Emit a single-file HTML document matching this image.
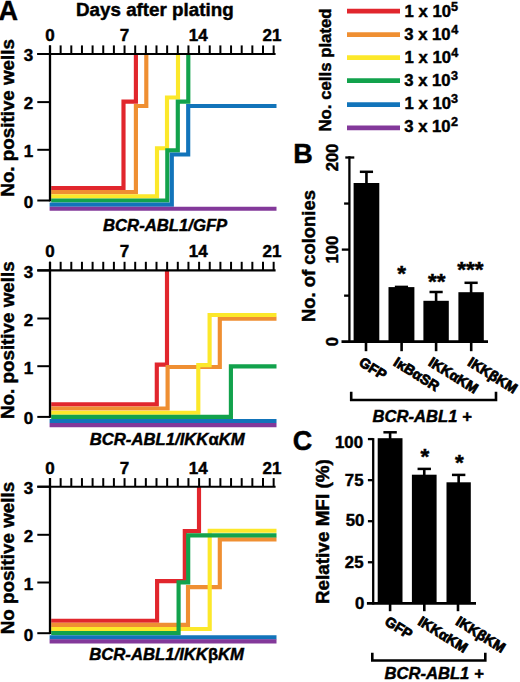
<!DOCTYPE html>
<html><head><meta charset="utf-8"><style>
html,body{margin:0;padding:0;background:#fff;}
body{width:520px;height:682px;overflow:hidden;}
svg{display:block;}
text{font-family:"Liberation Sans", sans-serif;font-weight:bold;fill:#000;stroke:#000;stroke-width:0.45px;}
text.xl{stroke-width:0.8px;}
</style></head><body>
<svg width="520" height="682" viewBox="0 0 520 682">
<rect width="520" height="682" fill="#fff"/>
<text x="-1.47" y="20.20" font-size="27" text-anchor="start" style="">A</text>
<text x="76.04" y="15.60" font-size="18.8" text-anchor="start" style="">Days after plating</text>
<text x="50.00" y="40.80" font-size="17" text-anchor="middle" style="">0</text>
<text x="124.55" y="40.80" font-size="17" text-anchor="middle" style="">7</text>
<text x="198.30" y="40.80" font-size="17" text-anchor="middle" style="">14</text>
<text x="272.05" y="40.80" font-size="17" text-anchor="middle" style="">21</text>
<polyline points="51.20,188.00 123.50,188.00 123.50,101.60 135.90,101.60 135.90,54.00" fill="none" stroke="#E1262D" stroke-width="4.15" stroke-linejoin="miter" stroke-linecap="butt"/>
<polyline points="51.20,192.10 135.90,192.10 135.90,106.00 146.30,106.00 146.30,54.00" fill="none" stroke="#EF8F32" stroke-width="4.15" stroke-linejoin="miter" stroke-linecap="butt"/>
<polyline points="51.20,196.30 157.00,196.30 157.00,148.20 167.00,148.20 167.00,97.50 178.00,97.50 178.00,54.00" fill="none" stroke="#FCE82A" stroke-width="4.15" stroke-linejoin="miter" stroke-linecap="butt"/>
<polyline points="51.20,200.45 167.30,200.45 167.30,150.40 177.80,150.40 177.80,101.60 188.30,101.60 188.30,54.00" fill="none" stroke="#12A24C" stroke-width="4.15" stroke-linejoin="miter" stroke-linecap="butt"/>
<polyline points="49.60,204.60 171.80,204.60 171.80,154.50 188.20,154.50 188.20,106.00 276.50,106.00" fill="none" stroke="#1274BA" stroke-width="4.15" stroke-linejoin="miter" stroke-linecap="butt"/>
<polyline points="49.60,208.70 276.50,208.70" fill="none" stroke="#83399A" stroke-width="4.15" stroke-linejoin="miter" stroke-linecap="butt"/>
<line x1="37.30" y1="54.00" x2="275.60" y2="54.00" stroke="#000" stroke-width="2.1" stroke-linecap="butt"/>
<line x1="50.00" y1="45.40" x2="50.00" y2="54.00" stroke="#000" stroke-width="2.0" stroke-linecap="butt"/>
<line x1="60.65" y1="45.40" x2="60.65" y2="54.00" stroke="#000" stroke-width="2.0" stroke-linecap="butt"/>
<line x1="71.30" y1="45.40" x2="71.30" y2="54.00" stroke="#000" stroke-width="2.0" stroke-linecap="butt"/>
<line x1="81.95" y1="45.40" x2="81.95" y2="54.00" stroke="#000" stroke-width="2.0" stroke-linecap="butt"/>
<line x1="92.60" y1="45.40" x2="92.60" y2="54.00" stroke="#000" stroke-width="2.0" stroke-linecap="butt"/>
<line x1="103.25" y1="45.40" x2="103.25" y2="54.00" stroke="#000" stroke-width="2.0" stroke-linecap="butt"/>
<line x1="113.90" y1="45.40" x2="113.90" y2="54.00" stroke="#000" stroke-width="2.0" stroke-linecap="butt"/>
<line x1="124.55" y1="45.40" x2="124.55" y2="54.00" stroke="#000" stroke-width="2.0" stroke-linecap="butt"/>
<line x1="135.20" y1="45.40" x2="135.20" y2="54.00" stroke="#000" stroke-width="2.0" stroke-linecap="butt"/>
<line x1="145.85" y1="45.40" x2="145.85" y2="54.00" stroke="#000" stroke-width="2.0" stroke-linecap="butt"/>
<line x1="156.50" y1="45.40" x2="156.50" y2="54.00" stroke="#000" stroke-width="2.0" stroke-linecap="butt"/>
<line x1="167.15" y1="45.40" x2="167.15" y2="54.00" stroke="#000" stroke-width="2.0" stroke-linecap="butt"/>
<line x1="177.80" y1="45.40" x2="177.80" y2="54.00" stroke="#000" stroke-width="2.0" stroke-linecap="butt"/>
<line x1="188.45" y1="45.40" x2="188.45" y2="54.00" stroke="#000" stroke-width="2.0" stroke-linecap="butt"/>
<line x1="199.10" y1="45.40" x2="199.10" y2="54.00" stroke="#000" stroke-width="2.0" stroke-linecap="butt"/>
<line x1="209.75" y1="45.40" x2="209.75" y2="54.00" stroke="#000" stroke-width="2.0" stroke-linecap="butt"/>
<line x1="220.40" y1="45.40" x2="220.40" y2="54.00" stroke="#000" stroke-width="2.0" stroke-linecap="butt"/>
<line x1="231.05" y1="45.40" x2="231.05" y2="54.00" stroke="#000" stroke-width="2.0" stroke-linecap="butt"/>
<line x1="241.70" y1="45.40" x2="241.70" y2="54.00" stroke="#000" stroke-width="2.0" stroke-linecap="butt"/>
<line x1="252.35" y1="45.40" x2="252.35" y2="54.00" stroke="#000" stroke-width="2.0" stroke-linecap="butt"/>
<line x1="263.00" y1="45.40" x2="263.00" y2="54.00" stroke="#000" stroke-width="2.0" stroke-linecap="butt"/>
<line x1="273.65" y1="45.40" x2="273.65" y2="54.00" stroke="#000" stroke-width="2.0" stroke-linecap="butt"/>
<line x1="50.00" y1="45.40" x2="50.00" y2="201.40" stroke="#000" stroke-width="2.3" stroke-linecap="butt"/>
<line x1="37.30" y1="54.00" x2="50.00" y2="54.00" stroke="#000" stroke-width="2.0" stroke-linecap="butt"/>
<text x="33.20" y="61.30" font-size="17" text-anchor="end" style="">3</text>
<line x1="37.30" y1="102.10" x2="50.00" y2="102.10" stroke="#000" stroke-width="2.0" stroke-linecap="butt"/>
<text x="33.20" y="109.40" font-size="17" text-anchor="end" style="">2</text>
<line x1="37.30" y1="149.80" x2="50.00" y2="149.80" stroke="#000" stroke-width="2.0" stroke-linecap="butt"/>
<text x="33.20" y="157.10" font-size="17" text-anchor="end" style="">1</text>
<line x1="37.30" y1="200.50" x2="50.00" y2="200.50" stroke="#000" stroke-width="2.0" stroke-linecap="butt"/>
<text x="33.20" y="207.80" font-size="17" text-anchor="end" style="">0</text>
<text x="14.20" y="196.66" font-size="18.8" text-anchor="start" style="" transform="rotate(-90 14.20 196.66)">No. positive wells</text>
<text x="103.01" y="230.80" font-size="16.7" text-anchor="start" style="font-style:italic;">BCR-ABL1/GFP</text>
<text x="50.00" y="257.20" font-size="17" text-anchor="middle" style="">0</text>
<text x="124.55" y="257.20" font-size="17" text-anchor="middle" style="">7</text>
<text x="198.30" y="257.20" font-size="17" text-anchor="middle" style="">14</text>
<text x="272.05" y="257.20" font-size="17" text-anchor="middle" style="">21</text>
<polyline points="51.20,404.40 156.80,404.40 156.80,364.60 167.00,364.60 167.00,270.40" fill="none" stroke="#E1262D" stroke-width="4.15" stroke-linejoin="miter" stroke-linecap="butt"/>
<polyline points="51.20,408.50 167.60,408.50 167.60,367.00 219.80,367.00 219.80,318.70 276.50,318.70" fill="none" stroke="#EF8F32" stroke-width="4.15" stroke-linejoin="miter" stroke-linecap="butt"/>
<polyline points="51.20,412.70 198.30,412.70 198.30,365.10 209.60,365.10 209.60,315.00 276.50,315.00" fill="none" stroke="#FCE82A" stroke-width="4.15" stroke-linejoin="miter" stroke-linecap="butt"/>
<polyline points="51.20,416.85 230.90,416.85 230.90,366.40 276.50,366.40" fill="none" stroke="#12A24C" stroke-width="4.15" stroke-linejoin="miter" stroke-linecap="butt"/>
<polyline points="49.60,421.00 276.50,421.00" fill="none" stroke="#1274BA" stroke-width="4.15" stroke-linejoin="miter" stroke-linecap="butt"/>
<polyline points="49.60,425.10 276.50,425.10" fill="none" stroke="#83399A" stroke-width="4.15" stroke-linejoin="miter" stroke-linecap="butt"/>
<line x1="37.30" y1="270.40" x2="275.60" y2="270.40" stroke="#000" stroke-width="2.1" stroke-linecap="butt"/>
<line x1="50.00" y1="261.80" x2="50.00" y2="270.40" stroke="#000" stroke-width="2.0" stroke-linecap="butt"/>
<line x1="60.65" y1="261.80" x2="60.65" y2="270.40" stroke="#000" stroke-width="2.0" stroke-linecap="butt"/>
<line x1="71.30" y1="261.80" x2="71.30" y2="270.40" stroke="#000" stroke-width="2.0" stroke-linecap="butt"/>
<line x1="81.95" y1="261.80" x2="81.95" y2="270.40" stroke="#000" stroke-width="2.0" stroke-linecap="butt"/>
<line x1="92.60" y1="261.80" x2="92.60" y2="270.40" stroke="#000" stroke-width="2.0" stroke-linecap="butt"/>
<line x1="103.25" y1="261.80" x2="103.25" y2="270.40" stroke="#000" stroke-width="2.0" stroke-linecap="butt"/>
<line x1="113.90" y1="261.80" x2="113.90" y2="270.40" stroke="#000" stroke-width="2.0" stroke-linecap="butt"/>
<line x1="124.55" y1="261.80" x2="124.55" y2="270.40" stroke="#000" stroke-width="2.0" stroke-linecap="butt"/>
<line x1="135.20" y1="261.80" x2="135.20" y2="270.40" stroke="#000" stroke-width="2.0" stroke-linecap="butt"/>
<line x1="145.85" y1="261.80" x2="145.85" y2="270.40" stroke="#000" stroke-width="2.0" stroke-linecap="butt"/>
<line x1="156.50" y1="261.80" x2="156.50" y2="270.40" stroke="#000" stroke-width="2.0" stroke-linecap="butt"/>
<line x1="167.15" y1="261.80" x2="167.15" y2="270.40" stroke="#000" stroke-width="2.0" stroke-linecap="butt"/>
<line x1="177.80" y1="261.80" x2="177.80" y2="270.40" stroke="#000" stroke-width="2.0" stroke-linecap="butt"/>
<line x1="188.45" y1="261.80" x2="188.45" y2="270.40" stroke="#000" stroke-width="2.0" stroke-linecap="butt"/>
<line x1="199.10" y1="261.80" x2="199.10" y2="270.40" stroke="#000" stroke-width="2.0" stroke-linecap="butt"/>
<line x1="209.75" y1="261.80" x2="209.75" y2="270.40" stroke="#000" stroke-width="2.0" stroke-linecap="butt"/>
<line x1="220.40" y1="261.80" x2="220.40" y2="270.40" stroke="#000" stroke-width="2.0" stroke-linecap="butt"/>
<line x1="231.05" y1="261.80" x2="231.05" y2="270.40" stroke="#000" stroke-width="2.0" stroke-linecap="butt"/>
<line x1="241.70" y1="261.80" x2="241.70" y2="270.40" stroke="#000" stroke-width="2.0" stroke-linecap="butt"/>
<line x1="252.35" y1="261.80" x2="252.35" y2="270.40" stroke="#000" stroke-width="2.0" stroke-linecap="butt"/>
<line x1="263.00" y1="261.80" x2="263.00" y2="270.40" stroke="#000" stroke-width="2.0" stroke-linecap="butt"/>
<line x1="273.65" y1="261.80" x2="273.65" y2="270.40" stroke="#000" stroke-width="2.0" stroke-linecap="butt"/>
<line x1="50.00" y1="261.80" x2="50.00" y2="417.80" stroke="#000" stroke-width="2.3" stroke-linecap="butt"/>
<line x1="37.30" y1="270.40" x2="50.00" y2="270.40" stroke="#000" stroke-width="2.0" stroke-linecap="butt"/>
<text x="33.20" y="277.70" font-size="17" text-anchor="end" style="">3</text>
<line x1="37.30" y1="318.50" x2="50.00" y2="318.50" stroke="#000" stroke-width="2.0" stroke-linecap="butt"/>
<text x="33.20" y="325.80" font-size="17" text-anchor="end" style="">2</text>
<line x1="37.30" y1="366.20" x2="50.00" y2="366.20" stroke="#000" stroke-width="2.0" stroke-linecap="butt"/>
<text x="33.20" y="373.50" font-size="17" text-anchor="end" style="">1</text>
<line x1="37.30" y1="416.90" x2="50.00" y2="416.90" stroke="#000" stroke-width="2.0" stroke-linecap="butt"/>
<text x="33.20" y="424.20" font-size="17" text-anchor="end" style="">0</text>
<text x="14.20" y="418.96" font-size="18.8" text-anchor="start" style="" transform="rotate(-90 14.20 418.96)">No. positive wells</text>
<text x="89.71" y="444.60" font-size="16.7" text-anchor="start" style="font-style:italic;">BCR-ABL1/IKK<tspan style="font-style:normal">&#945;</tspan>KM</text>
<text x="50.00" y="473.50" font-size="17" text-anchor="middle" style="">0</text>
<text x="124.55" y="473.50" font-size="17" text-anchor="middle" style="">7</text>
<text x="198.30" y="473.50" font-size="17" text-anchor="middle" style="">14</text>
<text x="272.05" y="473.50" font-size="17" text-anchor="middle" style="">21</text>
<polyline points="51.20,620.70 157.10,620.70 157.10,581.10 184.80,581.10 184.80,531.10 199.00,531.10 199.00,486.70" fill="none" stroke="#E1262D" stroke-width="4.15" stroke-linejoin="miter" stroke-linecap="butt"/>
<polyline points="51.20,624.80 188.00,624.80 188.00,587.10 219.80,587.10 219.80,539.30 276.50,539.30" fill="none" stroke="#EF8F32" stroke-width="4.15" stroke-linejoin="miter" stroke-linecap="butt"/>
<polyline points="51.20,629.00 209.70,629.00 209.70,530.70 276.50,530.70" fill="none" stroke="#FCE82A" stroke-width="4.15" stroke-linejoin="miter" stroke-linecap="butt"/>
<polyline points="51.20,633.15 178.60,633.15 178.60,582.40 188.20,582.40 188.20,535.30 276.50,535.30" fill="none" stroke="#12A24C" stroke-width="4.15" stroke-linejoin="miter" stroke-linecap="butt"/>
<polyline points="49.60,637.30 276.50,637.30" fill="none" stroke="#1274BA" stroke-width="4.15" stroke-linejoin="miter" stroke-linecap="butt"/>
<polyline points="49.60,641.40 276.50,641.40" fill="none" stroke="#83399A" stroke-width="4.15" stroke-linejoin="miter" stroke-linecap="butt"/>
<line x1="37.30" y1="486.70" x2="275.60" y2="486.70" stroke="#000" stroke-width="2.1" stroke-linecap="butt"/>
<line x1="50.00" y1="478.10" x2="50.00" y2="486.70" stroke="#000" stroke-width="2.0" stroke-linecap="butt"/>
<line x1="60.65" y1="478.10" x2="60.65" y2="486.70" stroke="#000" stroke-width="2.0" stroke-linecap="butt"/>
<line x1="71.30" y1="478.10" x2="71.30" y2="486.70" stroke="#000" stroke-width="2.0" stroke-linecap="butt"/>
<line x1="81.95" y1="478.10" x2="81.95" y2="486.70" stroke="#000" stroke-width="2.0" stroke-linecap="butt"/>
<line x1="92.60" y1="478.10" x2="92.60" y2="486.70" stroke="#000" stroke-width="2.0" stroke-linecap="butt"/>
<line x1="103.25" y1="478.10" x2="103.25" y2="486.70" stroke="#000" stroke-width="2.0" stroke-linecap="butt"/>
<line x1="113.90" y1="478.10" x2="113.90" y2="486.70" stroke="#000" stroke-width="2.0" stroke-linecap="butt"/>
<line x1="124.55" y1="478.10" x2="124.55" y2="486.70" stroke="#000" stroke-width="2.0" stroke-linecap="butt"/>
<line x1="135.20" y1="478.10" x2="135.20" y2="486.70" stroke="#000" stroke-width="2.0" stroke-linecap="butt"/>
<line x1="145.85" y1="478.10" x2="145.85" y2="486.70" stroke="#000" stroke-width="2.0" stroke-linecap="butt"/>
<line x1="156.50" y1="478.10" x2="156.50" y2="486.70" stroke="#000" stroke-width="2.0" stroke-linecap="butt"/>
<line x1="167.15" y1="478.10" x2="167.15" y2="486.70" stroke="#000" stroke-width="2.0" stroke-linecap="butt"/>
<line x1="177.80" y1="478.10" x2="177.80" y2="486.70" stroke="#000" stroke-width="2.0" stroke-linecap="butt"/>
<line x1="188.45" y1="478.10" x2="188.45" y2="486.70" stroke="#000" stroke-width="2.0" stroke-linecap="butt"/>
<line x1="199.10" y1="478.10" x2="199.10" y2="486.70" stroke="#000" stroke-width="2.0" stroke-linecap="butt"/>
<line x1="209.75" y1="478.10" x2="209.75" y2="486.70" stroke="#000" stroke-width="2.0" stroke-linecap="butt"/>
<line x1="220.40" y1="478.10" x2="220.40" y2="486.70" stroke="#000" stroke-width="2.0" stroke-linecap="butt"/>
<line x1="231.05" y1="478.10" x2="231.05" y2="486.70" stroke="#000" stroke-width="2.0" stroke-linecap="butt"/>
<line x1="241.70" y1="478.10" x2="241.70" y2="486.70" stroke="#000" stroke-width="2.0" stroke-linecap="butt"/>
<line x1="252.35" y1="478.10" x2="252.35" y2="486.70" stroke="#000" stroke-width="2.0" stroke-linecap="butt"/>
<line x1="263.00" y1="478.10" x2="263.00" y2="486.70" stroke="#000" stroke-width="2.0" stroke-linecap="butt"/>
<line x1="273.65" y1="478.10" x2="273.65" y2="486.70" stroke="#000" stroke-width="2.0" stroke-linecap="butt"/>
<line x1="50.00" y1="478.10" x2="50.00" y2="634.10" stroke="#000" stroke-width="2.3" stroke-linecap="butt"/>
<line x1="37.30" y1="486.70" x2="50.00" y2="486.70" stroke="#000" stroke-width="2.0" stroke-linecap="butt"/>
<text x="33.20" y="494.00" font-size="17" text-anchor="end" style="">3</text>
<line x1="37.30" y1="534.80" x2="50.00" y2="534.80" stroke="#000" stroke-width="2.0" stroke-linecap="butt"/>
<text x="33.20" y="542.10" font-size="17" text-anchor="end" style="">2</text>
<line x1="37.30" y1="582.50" x2="50.00" y2="582.50" stroke="#000" stroke-width="2.0" stroke-linecap="butt"/>
<text x="33.20" y="589.80" font-size="17" text-anchor="end" style="">1</text>
<line x1="37.30" y1="633.20" x2="50.00" y2="633.20" stroke="#000" stroke-width="2.0" stroke-linecap="butt"/>
<text x="33.20" y="640.50" font-size="17" text-anchor="end" style="">0</text>
<text x="14.20" y="634.26" font-size="18.8" text-anchor="start" style="" transform="rotate(-90 14.20 634.26)">No positive wells</text>
<text x="89.21" y="660.40" font-size="16.7" text-anchor="start" style="font-style:italic;">BCR-ABL1/IKK<tspan style="font-style:normal">&#946;</tspan>KM</text>
<line x1="347.00" y1="11.10" x2="400.00" y2="11.10" stroke="#E1262D" stroke-width="4.8" stroke-linecap="butt"/>
<text x="404.55" y="16.90" font-size="16.7" text-anchor="start" style="">1 x 10</text>
<text x="451.01" y="10.70" font-size="12.6" text-anchor="start" style="">5</text>
<line x1="347.00" y1="34.60" x2="400.00" y2="34.60" stroke="#EF8F32" stroke-width="4.8" stroke-linecap="butt"/>
<text x="404.22" y="39.95" font-size="16.7" text-anchor="start" style="">3 x 10</text>
<text x="451.21" y="33.75" font-size="12.6" text-anchor="start" style="">4</text>
<line x1="347.00" y1="57.70" x2="400.00" y2="57.70" stroke="#FCE82A" stroke-width="4.8" stroke-linecap="butt"/>
<text x="404.55" y="63.00" font-size="16.7" text-anchor="start" style="">1 x 10</text>
<text x="451.21" y="56.80" font-size="12.6" text-anchor="start" style="">4</text>
<line x1="347.00" y1="80.60" x2="400.00" y2="80.60" stroke="#12A24C" stroke-width="4.8" stroke-linecap="butt"/>
<text x="404.22" y="86.05" font-size="16.7" text-anchor="start" style="">3 x 10</text>
<text x="451.11" y="79.85" font-size="12.6" text-anchor="start" style="">3</text>
<line x1="347.00" y1="104.70" x2="400.00" y2="104.70" stroke="#1274BA" stroke-width="4.8" stroke-linecap="butt"/>
<text x="404.55" y="109.10" font-size="16.7" text-anchor="start" style="">1 x 10</text>
<text x="451.11" y="102.90" font-size="12.6" text-anchor="start" style="">3</text>
<line x1="347.00" y1="127.90" x2="400.00" y2="127.90" stroke="#83399A" stroke-width="4.8" stroke-linecap="butt"/>
<text x="404.22" y="132.15" font-size="16.7" text-anchor="start" style="">3 x 10</text>
<text x="450.96" y="125.95" font-size="12.6" text-anchor="start" style="">2</text>
<text x="331.00" y="131.52" font-size="16.8" text-anchor="start" style="" transform="rotate(-90 331.00 131.52)">No. cells plated</text>
<text x="293.19" y="162.90" font-size="27" text-anchor="start" style="">B</text>
<rect x="353.60" y="183.00" width="25.70" height="158.70" fill="#000"/>
<line x1="366.45" y1="171.80" x2="366.45" y2="184.00" stroke="#000" stroke-width="2.6" stroke-linecap="butt"/>
<line x1="359.85" y1="171.80" x2="373.05" y2="171.80" stroke="#000" stroke-width="2.5" stroke-linecap="butt"/>
<rect x="388.50" y="287.10" width="25.90" height="54.60" fill="#000"/>
<line x1="401.45" y1="286.90" x2="401.45" y2="288.10" stroke="#000" stroke-width="2.6" stroke-linecap="butt"/>
<line x1="394.85" y1="286.90" x2="408.05" y2="286.90" stroke="#000" stroke-width="2.5" stroke-linecap="butt"/>
<rect x="423.40" y="300.80" width="25.40" height="40.90" fill="#000"/>
<line x1="436.10" y1="292.00" x2="436.10" y2="301.80" stroke="#000" stroke-width="2.6" stroke-linecap="butt"/>
<line x1="429.50" y1="292.00" x2="442.70" y2="292.00" stroke="#000" stroke-width="2.5" stroke-linecap="butt"/>
<rect x="458.40" y="292.20" width="25.40" height="49.50" fill="#000"/>
<line x1="471.10" y1="282.80" x2="471.10" y2="293.20" stroke="#000" stroke-width="2.6" stroke-linecap="butt"/>
<line x1="464.50" y1="282.80" x2="477.70" y2="282.80" stroke="#000" stroke-width="2.5" stroke-linecap="butt"/>
<line x1="349.40" y1="156.30" x2="349.40" y2="342.90" stroke="#000" stroke-width="2.3" stroke-linecap="butt"/>
<line x1="345.30" y1="157.50" x2="354.30" y2="157.50" stroke="#000" stroke-width="2.3" stroke-linecap="butt"/>
<line x1="344.10" y1="203.55" x2="349.40" y2="203.55" stroke="#000" stroke-width="2.3" stroke-linecap="butt"/>
<line x1="341.80" y1="249.60" x2="349.40" y2="249.60" stroke="#000" stroke-width="2.3" stroke-linecap="butt"/>
<line x1="344.10" y1="295.65" x2="349.40" y2="295.65" stroke="#000" stroke-width="2.3" stroke-linecap="butt"/>
<line x1="341.50" y1="341.70" x2="488.00" y2="341.70" stroke="#000" stroke-width="2.8" stroke-linecap="butt"/>
<line x1="366.00" y1="341.70" x2="366.00" y2="351.20" stroke="#000" stroke-width="2.6" stroke-linecap="butt"/>
<line x1="401.60" y1="341.70" x2="401.60" y2="351.20" stroke="#000" stroke-width="2.6" stroke-linecap="butt"/>
<line x1="436.10" y1="341.70" x2="436.10" y2="351.20" stroke="#000" stroke-width="2.6" stroke-linecap="butt"/>
<line x1="471.20" y1="341.70" x2="471.20" y2="351.20" stroke="#000" stroke-width="2.6" stroke-linecap="butt"/>
<text x="337.60" y="157.50" font-size="16.6" text-anchor="middle" style="" transform="rotate(-90 337.60 157.50)">200</text>
<text x="337.60" y="249.60" font-size="16.6" text-anchor="middle" style="" transform="rotate(-90 337.60 249.60)">100</text>
<text x="337.60" y="341.70" font-size="16.6" text-anchor="middle" style="" transform="rotate(-90 337.60 341.70)">0</text>
<text x="315.40" y="321.93" font-size="18.4" text-anchor="start" style="" transform="rotate(-90 315.40 321.93)">No. of colonies</text>
<text x="397.33" y="280.60" font-size="22.5" text-anchor="start" style="">*</text>
<text x="428.03" y="289.30" font-size="22.5" text-anchor="start" style="">**</text>
<text x="457.23" y="277.10" font-size="22.5" text-anchor="start" style="">***</text>
<text x="358.00" y="364.80" font-size="14.2" text-anchor="start" style="" transform="rotate(32 358.00 364.80)" class="xl">GFP</text>
<text x="392.60" y="364.80" font-size="14.2" text-anchor="start" style="" transform="rotate(32 392.60 364.80)" class="xl">I&#954;B&#945;SR</text>
<text x="427.50" y="364.80" font-size="14.2" text-anchor="start" style="" transform="rotate(32 427.50 364.80)" class="xl">IKK&#945;KM</text>
<text x="466.80" y="364.80" font-size="14.2" text-anchor="start" style="" transform="rotate(32 466.80 364.80)" class="xl">IKK&#946;KM</text>
<polyline points="351.20,391.80 351.20,400.00 496.00,400.00 496.00,391.80" fill="none" stroke="#000" stroke-width="2.6" stroke-linejoin="miter" stroke-linecap="butt"/>
<text x="372.61" y="421.50" font-size="16.6" text-anchor="start" style="font-style:italic;">BCR-ABL1 +</text>
<text x="292.69" y="450.10" font-size="27" text-anchor="start" style="">C</text>
<rect x="377.70" y="438.20" width="24.80" height="165.10" fill="#000"/>
<line x1="390.10" y1="432.30" x2="390.10" y2="439.20" stroke="#000" stroke-width="2.6" stroke-linecap="butt"/>
<line x1="383.40" y1="432.30" x2="396.80" y2="432.30" stroke="#000" stroke-width="2.5" stroke-linecap="butt"/>
<rect x="411.90" y="474.70" width="24.70" height="128.60" fill="#000"/>
<line x1="424.25" y1="468.90" x2="424.25" y2="475.70" stroke="#000" stroke-width="2.6" stroke-linecap="butt"/>
<line x1="417.55" y1="468.90" x2="430.95" y2="468.90" stroke="#000" stroke-width="2.5" stroke-linecap="butt"/>
<rect x="446.50" y="482.30" width="24.30" height="121.00" fill="#000"/>
<line x1="458.65" y1="474.90" x2="458.65" y2="483.30" stroke="#000" stroke-width="2.6" stroke-linecap="butt"/>
<line x1="451.95" y1="474.90" x2="465.35" y2="474.90" stroke="#000" stroke-width="2.5" stroke-linecap="butt"/>
<line x1="373.20" y1="438.10" x2="373.20" y2="604.50" stroke="#000" stroke-width="2.3" stroke-linecap="butt"/>
<line x1="367.90" y1="439.10" x2="373.20" y2="439.10" stroke="#000" stroke-width="2.3" stroke-linecap="butt"/>
<line x1="367.90" y1="480.15" x2="373.20" y2="480.15" stroke="#000" stroke-width="2.3" stroke-linecap="butt"/>
<line x1="367.90" y1="521.20" x2="373.20" y2="521.20" stroke="#000" stroke-width="2.3" stroke-linecap="butt"/>
<line x1="367.90" y1="562.25" x2="373.20" y2="562.25" stroke="#000" stroke-width="2.3" stroke-linecap="butt"/>
<line x1="366.90" y1="603.30" x2="476.00" y2="603.30" stroke="#000" stroke-width="2.8" stroke-linecap="butt"/>
<line x1="390.10" y1="603.30" x2="390.10" y2="611.20" stroke="#000" stroke-width="2.6" stroke-linecap="butt"/>
<line x1="424.30" y1="603.30" x2="424.30" y2="611.20" stroke="#000" stroke-width="2.6" stroke-linecap="butt"/>
<line x1="458.00" y1="603.30" x2="458.00" y2="611.20" stroke="#000" stroke-width="2.6" stroke-linecap="butt"/>
<text x="363.00" y="447.90" font-size="16.8" text-anchor="end" style="">100</text>
<text x="363.50" y="485.90" font-size="16.8" text-anchor="end" style="">75</text>
<text x="364.30" y="526.40" font-size="16.8" text-anchor="end" style="">50</text>
<text x="363.50" y="568.40" font-size="16.8" text-anchor="end" style="">25</text>
<text x="364.30" y="608.50" font-size="16.8" text-anchor="end" style="">0</text>
<text x="328.70" y="604.06" font-size="18.9" text-anchor="start" style="" transform="rotate(-90 328.70 604.06)">Relative MFI (%)</text>
<text x="420.53" y="464.20" font-size="22.5" text-anchor="start" style="">*</text>
<text x="455.03" y="470.00" font-size="22.5" text-anchor="start" style="">*</text>
<text x="383.80" y="624.00" font-size="14.2" text-anchor="start" style="" transform="rotate(32 383.80 624.00)" class="xl">GFP</text>
<text x="416.90" y="624.00" font-size="14.2" text-anchor="start" style="" transform="rotate(32 416.90 624.00)" class="xl">IKK&#945;KM</text>
<text x="454.80" y="624.00" font-size="14.2" text-anchor="start" style="" transform="rotate(32 454.80 624.00)" class="xl">IKK&#946;KM</text>
<polyline points="372.30,652.80 372.30,660.50 485.30,660.50 485.30,652.80" fill="none" stroke="#000" stroke-width="2.6" stroke-linejoin="miter" stroke-linecap="butt"/>
<text x="384.51" y="679.40" font-size="16.6" text-anchor="start" style="font-style:italic;">BCR-ABL1 +</text>
</svg>
</body></html>
